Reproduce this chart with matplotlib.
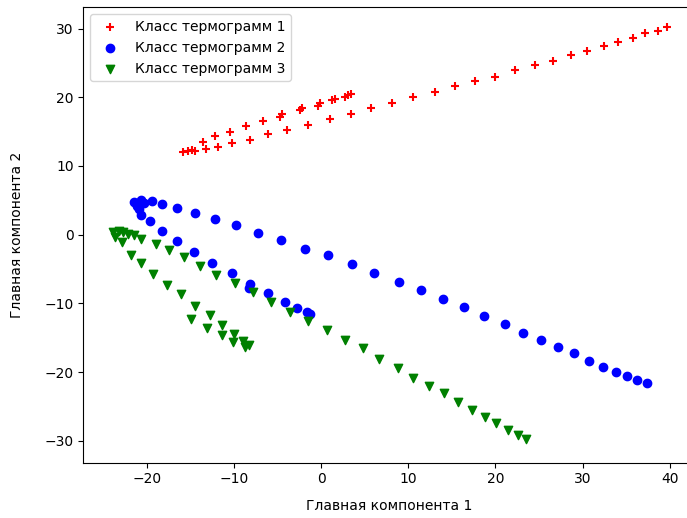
import matplotlib
matplotlib.use("Agg")
import matplotlib.pyplot as plt

# Class 1 (red +)
x1 = [-15.8, -15.3, -14.8, -14.4, -13.2, -11.8, -10.2, -8.1, -6.1, -3.9, -1.5, 1.0, 3.4,
      5.7, 8.1, 10.5, 13.1, 15.4, 17.7, 20.0, 22.2, 24.5, 26.6, 28.7, 30.5, 32.4, 34.1,
      35.8, 37.2, 38.6, 39.7,
      -13.5, -12.2, -10.4, -8.6, -6.7, -4.7, -4.5, -2.4, -2.2, -0.4, -0.1, 1.3, 1.6,
      2.75, 3.1, 3.4]
y1 = [12.0, 12.2, 12.3, 12.2, 12.4, 12.8, 13.3, 13.8, 14.6, 15.3, 16.0, 16.9, 17.5,
      18.4, 19.2, 20.0, 20.7, 21.6, 22.3, 23.0, 23.9, 24.7, 25.3, 26.1, 26.7, 27.5, 28.0,
      28.7, 29.3, 29.7, 30.2,
      13.5, 14.3, 14.9, 15.8, 16.6, 17.2, 17.5, 18.1, 18.4, 18.8, 19.1, 19.6, 19.8,
      20.1, 20.4, 20.5]

# Class 2 (blue o)
x2 = [-21.4, -21.1, -20.9, -20.6, -20.3, -19.4, -18.2, -16.5, -14.4, -12.2, -9.8,
      -7.2, -4.6, -1.8, 0.8, 3.5, 6.1, 8.9, 11.5, 14.0, 16.4, 18.7, 21.1, 23.2, 25.2,
      27.2, 29.0, 30.7, 32.3, 33.8, 35.1, 36.2, 37.4,
      -20.6, -19.6, -18.2, -16.5, -14.6, -12.5, -10.2, -8.2, -8.3, -6.1, -4.1, -2.7,
      -1.6, -1.3]
y2 = [4.8, 4.2, 3.8, 5.0, 4.6, 4.9, 4.4, 3.9, 3.2, 2.3, 1.4,
      0.25, -0.8, -2.1, -3.0, -4.3, -5.6, -6.9, -8.1, -9.4, -10.6, -11.9, -13.0, -14.3, -15.4,
      -16.3, -17.3, -18.4, -19.3, -20.0, -20.6, -21.2, -21.6,
      2.9, 2.0, 0.6, -0.9, -2.5, -4.1, -5.6, -7.2, -7.8, -8.5, -9.8, -10.7,
      -11.2, -11.5]

# Class 3 (green v)
x3 = [-23.8, -23.6, -23.2, -22.7, -22.1, -21.5, -22.8, -21.8, -20.6, -19.3, -17.7,
      -16.1, -14.4, -12.7, -14.9, -13.1, -11.3, -11.4, -10.0, -10.1, -8.9, -8.7, -8.3,
      -20.6, -18.9, -17.4, -15.7, -13.9, -12.0, -9.9, -7.8, -5.7, -3.6, -1.5, 0.65,
      2.7, 4.8, 6.7, 8.8, 10.6, 12.4, 14.1, 15.7, 17.3, 18.8, 20.1, 21.4, 22.6, 23.5]
y3 = [0.4, -0.3, 0.6, 0.4, 0.15, 0.0, -1.1, -2.9, -4.1, -5.7, -7.3,
      -8.7, -10.4, -11.7, -12.3, -13.6, -13.2, -14.6, -14.4, -15.7, -15.5, -16.3, -16.1,
      -0.7, -1.3, -2.3, -3.2, -4.6, -5.9, -7.1, -8.4, -9.8, -11.2, -12.5, -13.9,
      -15.4, -16.5, -18.1, -19.4, -20.8, -22.1, -23.1, -24.4, -25.5, -26.5, -27.4, -28.4,
      -29.1, -29.8]

labels = ["Класс термограмм 1", "Класс термограмм 2", "Класс термограмм 3"]

W, H = 687, 518
fig = plt.figure(figsize=(W / 100, H / 100), dpi=100)
left_px, right_px, top_px, bot_px = 83.3, 687.0, 7.3, 462.7
ax = fig.add_axes([left_px / W, (H - bot_px) / H, (right_px - left_px) / W,
                   (bot_px - top_px) / H])
ax.scatter(x1, y1, c="red", marker="+", label=labels[0])
ax.scatter(x2, y2, c="blue", marker="o", label=labels[1])
ax.scatter(x3, y3, c="green", marker="v", label=labels[2])
ax.set_xlim(-27.26, 41.96)
ax.set_ylim(-33.2, 33.1)
ax.spines["right"].set_visible(False)
ax.set_xticks([-20, -10, 0, 10, 20, 30, 40])
ax.set_yticks([-30, -20, -10, 0, 10, 20, 30])
ax.set_xlabel("Главная компонента 1")
ax.set_ylabel("Главная компонента 2")
ax.xaxis.set_label_coords((389.3 - left_px) / (right_px - left_px), -0.079)
ax.yaxis.set_label_coords(-0.098, 0.5)
ax.legend(loc="upper left")
fig.savefig("out.png", dpi=100)
